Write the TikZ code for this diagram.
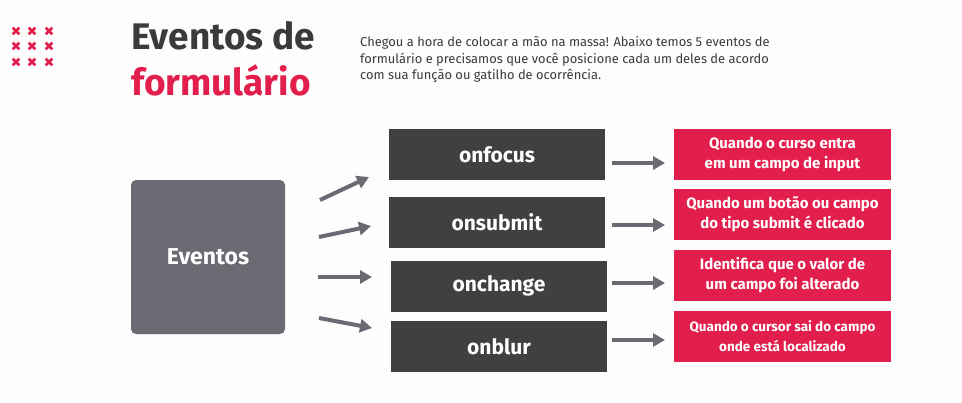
\documentclass[tikz,border=0pt]{standalone}
\usepackage{fontspec}
\setmainfont{Fira Sans}
\usetikzlibrary{positioning,arrows.meta}
\definecolor{evRed}{RGB}{226,31,76}
\definecolor{evDark}{RGB}{64,64,64}
\definecolor{evGray}{RGB}{106,107,114}
\definecolor{evText}{RGB}{58,58,58}
\definecolor{evBg}{RGB}{253,253,254}
\begin{document}
\begin{tikzpicture}[x=1pt, y=-1pt,
  evbox/.style={fill=evDark, text=white, minimum width=216pt, minimum height=51pt, inner sep=0pt, font=\fontsize{21}{24}\selectfont\bfseries},
  descbox/.style={fill=evRed, text=white, minimum width=217pt, minimum height=51pt, inner sep=0pt, align=center, font=\fontsize{15}{20}\selectfont\bfseries},
  evarrow/.style={evGray, line width=4pt, -{Triangle[length=12pt,width=13pt]}}]
\fill[evBg] (0,0) rectangle (962,402);
\useasboundingbox (0,0) rectangle (962,402);
% crosses
\foreach \cx in {16,32,49}{
  \foreach \cy in {31,46,62}{
    \draw[evRed, line width=2.6pt] (\cx-3.3,\cy-3.3) -- (\cx+3.3,\cy+3.3) (\cx-3.3,\cy+3.3) -- (\cx+3.3,\cy-3.3);
  }
}
% title and intro
\node[anchor=base west, inner sep=0pt, text=evText, font=\fontsize{37}{40}\selectfont\bfseries] (title1) at (131,49) {Eventos de};
\node[anchor=base west, inner sep=0pt, text=evRed, font=\fontsize{37}{40}\selectfont\bfseries] (title2) at (131,95) {formulário};
\node[anchor=north west, inner sep=0pt, align=left, text=evText, font=\fontsize{12.9}{16.5}\selectfont] (intro) at (360,36.5)
  {Chegou a hora de colocar a mão na massa! Abaixo temos 5 eventos de\\formulário e precisamos que você posicione cada um deles de acordo\\com sua função ou gatilho de ocorrência.};
% boxes
\node[fill=evGray, rounded corners=5pt, minimum width=154pt, minimum height=154pt, text=white, font=\fontsize{23}{26}\selectfont\bfseries] (ev) at (208,257) {Eventos};
\node[evbox] (focus) at (497,154.5) {onfocus};
\node[evbox] (submit) at (497,222) {onsubmit};
\node[evbox] (change) at (499,286) {onchange};
\node[evbox] (blur) at (499,346.5) {onblur};
\node[descbox] (dfocus) at (782.5,154.5) {Quando o curso entra\\em um campo de input};
\node[descbox] (dsubmit) at (782.5,214.5) {Quando um botão ou campo\\do tipo submit é clicado};
\node[descbox] (dchange) at (782.5,275) {Identifica que o valor de\\um campo foi alterado};
\node[descbox, font=\fontsize{13.5}{20}\selectfont\bfseries] (dblur) at (782.5,336.5) {Quando o cursor sai do campo\\onde está localizado};
% arrows
\foreach \i/\ax/\ay/\bx/\by in {1/320/200/369/177, 2/319/237/371/226, 3/318/277/372/277, 4/319/318/372/328}{
  \coordinate (la\i) at (\ax,\ay);
  \coordinate (lb\i) at (\bx,\by);
  \draw[evarrow] (la\i) -- (lb\i);
}
\foreach \i/\ry in {1/163, 2/225, 3/283, 4/340}{
  \coordinate (ra\i) at (612,\ry);
  \coordinate (rb\i) at (665,\ry);
  \draw[evarrow] (ra\i) -- (rb\i);
}
\end{tikzpicture}
\end{document}
